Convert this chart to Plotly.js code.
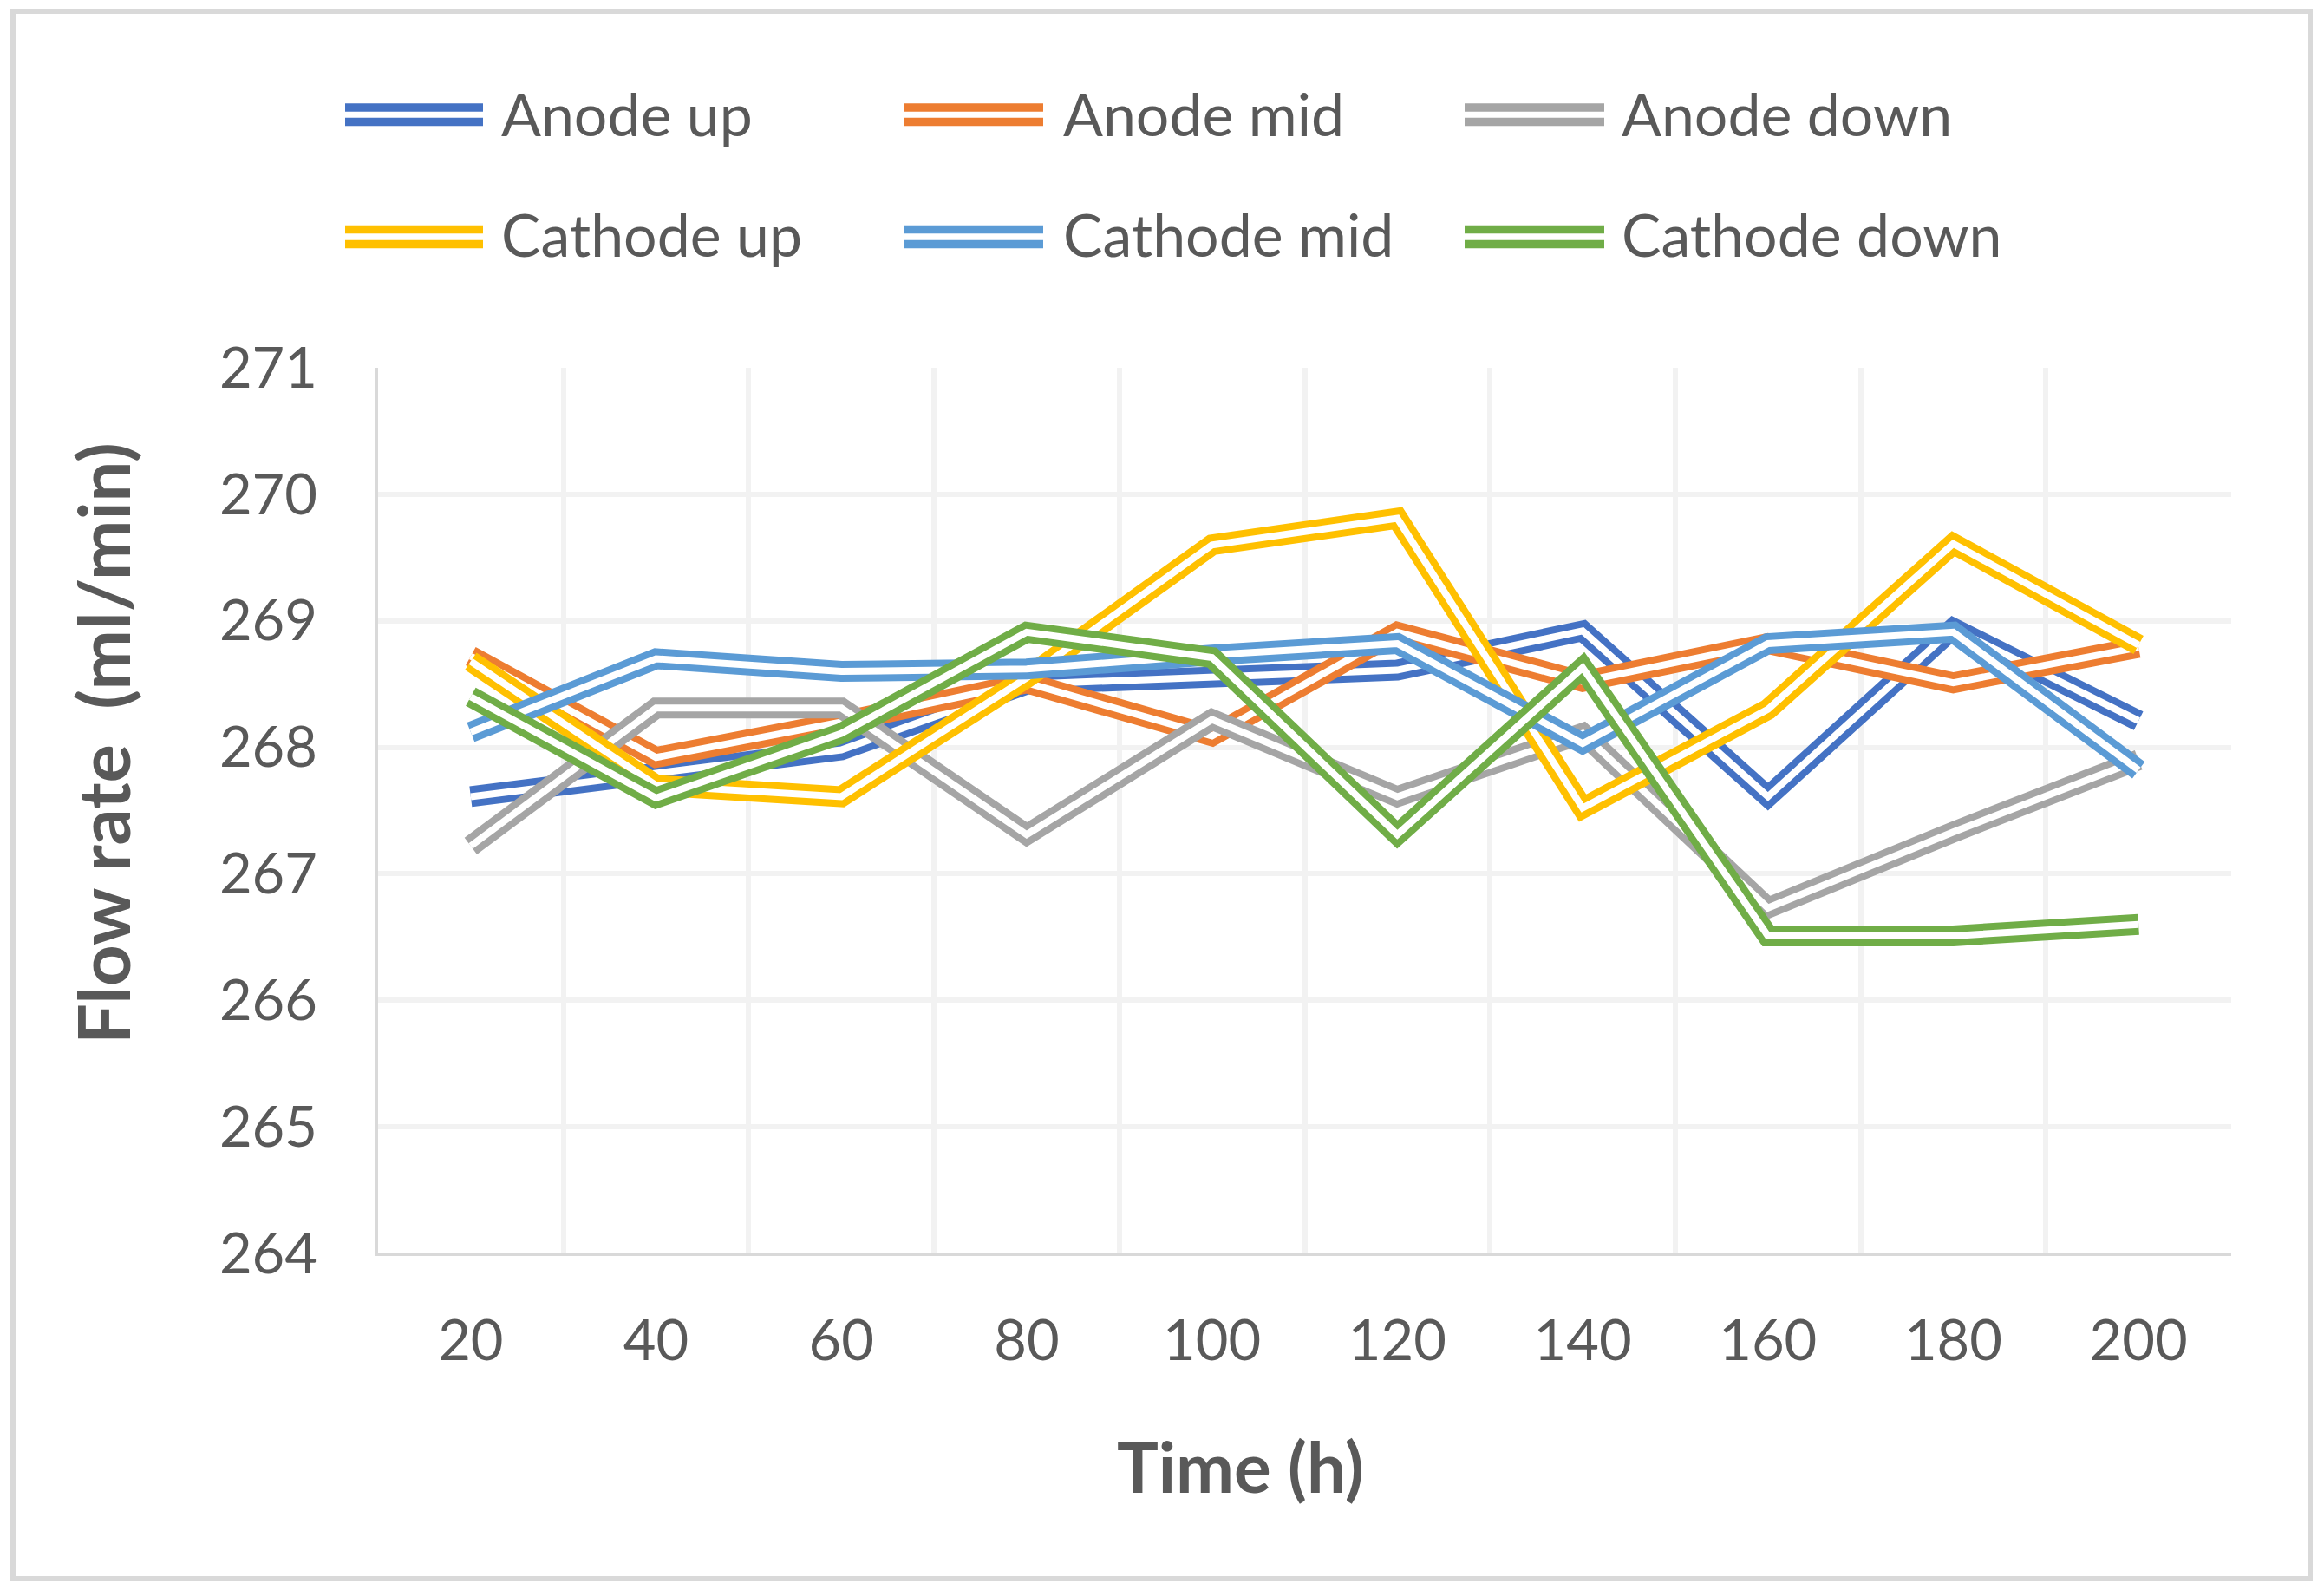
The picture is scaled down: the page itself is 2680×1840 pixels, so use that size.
<!DOCTYPE html>
<html>
<head>
<meta charset="utf-8">
<script src="https://cdn.plot.ly/plotly-3.0.1.min.js"></script>
<style>html,body{margin:0;padding:0;background:#fff;}#chart{width:2680px;height:1840px;}</style>
</head>
<body>
<div id="chart"></div>
<script>
// ---- data ----
var time = ["20", "40", "60", "80", "100", "120", "140", "160", "180", "200"];
var seriesNames = ["Anode up", "Anode mid", "Anode down", "Cathode up", "Cathode mid", "Cathode down"];
var anodeUp     = [267.61, 267.80, 267.98, 268.50, 268.55, 268.61, 268.92, 267.61, 268.94, 268.21];
var anodeMid    = [268.72, 267.92, 268.20, 268.51, 268.09, 268.91, 268.52, 268.82, 268.51, 268.79];
var anodeDown   = [267.22, 268.31, 268.31, 267.31, 268.22, 267.61, 268.11, 266.73, 267.33, 267.90];
var cathodeUp   = [268.68, 267.70, 267.61, 268.55, 269.60, 269.81, 267.52, 268.30, 269.61, 268.81];
var cathodeMid  = [268.12, 268.70, 268.60, 268.62, 268.73, 268.82, 268.03, 268.82, 268.91, 267.82];
var cathodeDown = [268.40, 267.60, 268.11, 268.91, 268.71, 267.31, 268.63, 266.51, 266.51, 266.60];
var yTicks = [264, 265, 266, 267, 268, 269, 270, 271];
var xTitle = "Time (h)";
var yTitle = "Flow rate\u00a0 (ml/min)";

var seriesValues = [anodeUp, anodeMid, anodeDown, cathodeUp, cathodeMid, cathodeDown];
var colors = ["#4472C4", "#ED7D31", "#A5A5A5", "#FFC000", "#5B9BD5", "#70AD47"];

// ---- layout geometry (pixels) ----
var W = 2680, H = 1840;
var L = 436, R = 2573, T = 424, B = 1445;
function px(x) { return (x - L) / (R - L); }
function py(y) { return (B - y) / (B - T); }

var textColor = "#595959";
var fontFam = "Lato, 'Open Sans', sans-serif";

var traces = [];
seriesValues.forEach(function (vals, i) {
  traces.push({
    x: time, y: vals, type: "scatter", mode: "lines", name: seriesNames[i],
    line: { color: colors[i], width: 24 }, showlegend: false, hoverinfo: "skip"
  });
  traces.push({
    x: time, y: vals, type: "scatter", mode: "lines", name: seriesNames[i] + " gap",
    line: { color: "#FFFFFF", width: 8 }, showlegend: false, hoverinfo: "skip"
  });
});

// ---- custom legend (double-line samples) ----
var shapes = [];
var annotations = [];
var legCols = [[398, 557, 576], [1043, 1203, 1224], [1689, 1850, 1868]];
var legRows = [[124, 140.5, 130], [264.5, 281.5, 270]];
seriesNames.forEach(function (name, i) {
  var c = legCols[i % 3], r = legRows[Math.floor(i / 3)];
  [r[0], r[1]].forEach(function (yy) {
    shapes.push({
      type: "line", xref: "paper", yref: "paper",
      x0: px(c[0]), x1: px(c[1]), y0: py(yy), y1: py(yy),
      line: { color: colors[i], width: 9.5 }
    });
  });
  annotations.push({
    xref: "paper", yref: "paper", x: px(c[2]), y: py(r[2]),
    xanchor: "left", yanchor: "middle", showarrow: false,
    text: name, font: { family: fontFam, size: 68, color: textColor }
  });
});

// outer chart border
shapes.push({
  type: "rect", xref: "paper", yref: "paper", layer: "above",
  x0: px(15), x1: px(2664), y0: py(13), y1: py(1820),
  line: { color: "#D9D9D9", width: 6 }
});

// axis titles
annotations.push({
  xref: "paper", yref: "paper", x: px(1430), y: py(1690),
  xanchor: "center", yanchor: "middle", showarrow: false,
  text: "<b>" + xTitle + "</b>", font: { family: fontFam, size: 80, color: textColor }
});
annotations.push({
  xref: "paper", yref: "paper", x: px(118), y: py(857),
  xanchor: "center", yanchor: "middle", showarrow: false, textangle: -90,
  text: "<b>" + yTitle + "</b>", font: { family: fontFam, size: 83, color: textColor }
});

var layout = {
  width: W, height: H,
  margin: { l: L, r: W - R, t: T, b: H - B, pad: 0 },
  paper_bgcolor: "#FFFFFF", plot_bgcolor: "#FFFFFF",
  showlegend: false,
  font: { family: fontFam, color: textColor },
  xaxis: {
    type: "category", range: [-0.5, 9.5], tickson: "boundaries",
    showgrid: true, gridcolor: "#F2F2F2", gridwidth: 6,
    showline: true, linecolor: "#D9D9D9", linewidth: 3,
    ticks: "", ticklabelstandoff: 42,
    tickfont: { family: fontFam, size: 65, color: textColor },
    fixedrange: true
  },
  yaxis: {
    range: [264, 271], tickvals: yTicks, ticktext: yTicks.map(String),
    showgrid: true, gridcolor: "#F2F2F2", gridwidth: 6, zeroline: false,
    showline: true, linecolor: "#D9D9D9", linewidth: 3,
    ticks: "", ticklabelstandoff: 54,
    tickfont: { family: fontFam, size: 65, color: textColor },
    fixedrange: true
  },
  shapes: shapes,
  annotations: annotations
};

Plotly.newPlot("chart", traces, layout, { displayModeBar: false, staticPlot: true });
</script>
</body>
</html>
